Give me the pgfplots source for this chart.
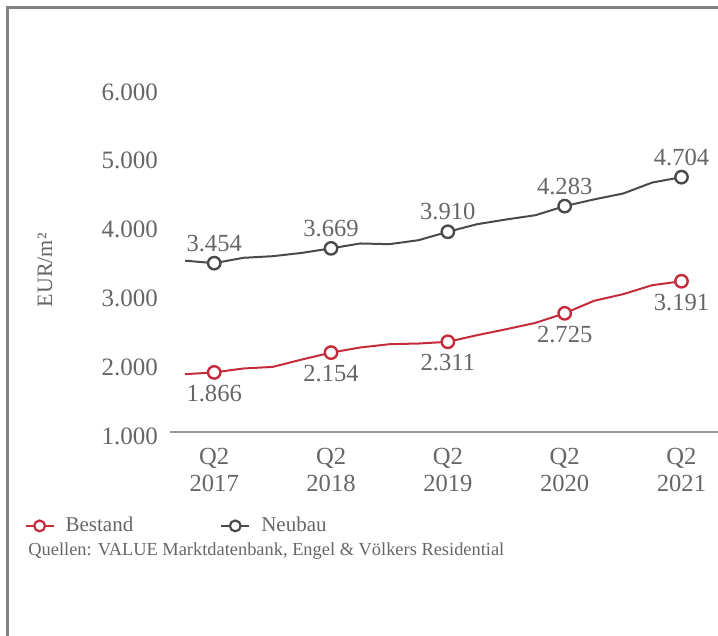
\documentclass[border=0pt]{standalone}
\usepackage{pgfplots}
\pgfplotsset{compat=1.18}
\usepackage{fontspec}
\setmainfont{Liberation Serif}
\definecolor{redline}{HTML}{C42B3B}
\definecolor{grayline}{HTML}{4A4A4A}
\definecolor{txt}{HTML}{666666}
\definecolor{framec}{HTML}{7E837E}
\definecolor{axisgray}{HTML}{9A9A9A}

\pgfplotstableread{
i v
0 3490
1 3454
2 3532
3 3555
4 3603
5 3669
6 3740
7 3730
8 3788
9 3910
10 4020
11 4089
12 4151
13 4283
14 4380
15 4466
16 4626
17 4704
}\neubau

\pgfplotstableread{
i v
0 1840
1 1866
2 1923
3 1946
4 2053
5 2154
6 2228
7 2276
8 2286
9 2311
10 2407
11 2494
12 2586
13 2725
14 2906
15 3003
16 3134
17 3191
}\bestand

\pgfplotstableread{
i v lab
1 3454 3.454
5 3669 3.669
9 3910 3.910
13 4283 4.283
17 4704 4.704
}\neubaupts

\pgfplotstableread{
i v lab
1 1866 1.866
5 2154 2.154
9 2311 2.311
13 2725 2.725
17 3191 3.191
}\bestandpts

\begin{document}
\begin{tikzpicture}
\useasboundingbox (0pt,0pt) rectangle (359pt,318pt);
\draw[framec, line width=1.2pt] (3.75pt,0pt) -- (3.75pt,314.25pt) -- (359pt,314.25pt);
\begin{axis}[
  at={(85pt,102pt)}, anchor=south west,
  scale only axis, width=274pt, height=172pt,
  xmin=-0.514, xmax=18.25, ymin=1000, ymax=6000,
  axis x line=bottom, axis y line=left,
  x axis line style={axisgray, line width=1pt, -},
  y axis line style={draw=none},
  major tick length=0pt,
  xtick style={draw=none}, ytick style={draw=none},
  xtick={1,5,9,13,17},
  xticklabels={{Q2\\2017},{Q2\\2018},{Q2\\2019},{Q2\\2020},{Q2\\2021}},
  xticklabel style={align=center, font=\fontsize{12.3}{13.5}\selectfont, text=txt, yshift=-4.5pt},
  ytick={1000,2000,3000,4000,5000,6000},
  yticklabels={1.000,2.000,3.000,4.000,5.000,6.000},
  yticklabel style={font=\fontsize{12.5}{14}\selectfont, text=txt, xshift=-2.5pt, yshift=-2pt},
  ylabel={EUR/m²},
  ylabel style={at={(rel axis cs:-0.228,0.47)}, anchor=center, font=\fontsize{11}{13}\selectfont, text=txt},
  clip=false,
  legend columns=2,
  legend image code/.code={\draw[mark repeat=2,mark phase=2] plot coordinates {(0pt,0pt) (7pt,0pt) (14pt,0pt)};},
  legend style={at={(rel axis cs:-0.266,-0.273)}, anchor=west, draw=none, fill=none,
    font=\fontsize{10.5}{12}\selectfont, text=txt, inner sep=0pt,
    nodes={inner sep=1.5pt},
    /tikz/every odd column/.append style={column sep=4pt},
    /tikz/every even column/.append style={column sep=42pt}},
]
\addlegendimage{redline, line width=1pt, mark=*, mark size=2.7pt, mark options={fill=white, line width=1.1pt}}
\addlegendentry{Bestand}
\addlegendimage{grayline, line width=1pt, mark=*, mark size=2.7pt, mark options={fill=white, line width=1.1pt}}
\addlegendentry{Neubau}

\addplot[grayline, line width=1pt, forget plot] table[x=i, y=v] {\neubau};
\addplot[redline, line width=1pt, forget plot] table[x=i, y=v] {\bestand};

\addplot[only marks, mark=*, mark size=3.1pt, mark options={draw=grayline, fill=white, line width=1.2pt},
  point meta=explicit symbolic, nodes near coords,
  every node near coord/.append style={anchor=center, yshift=10pt, font=\fontsize{12.3}{14}\selectfont, text=txt},
  forget plot] table[x=i, y=v, meta=lab] {\neubaupts};
\addplot[only marks, mark=*, mark size=3.1pt, mark options={draw=redline, fill=white, line width=1.2pt},
  point meta=explicit symbolic, nodes near coords,
  every node near coord/.append style={anchor=center, yshift=-10.5pt, font=\fontsize{12.3}{14}\selectfont, text=txt},
  forget plot] table[x=i, y=v, meta=lab] {\bestandpts};
\end{axis}
\node[anchor=west, text=txt, font=\fontsize{9.2}{11}\selectfont, inner sep=0pt] at (14pt,42.5pt) {Quellen: VALUE Marktdatenbank, Engel \& Völkers Residential};
\end{tikzpicture}
\end{document}
